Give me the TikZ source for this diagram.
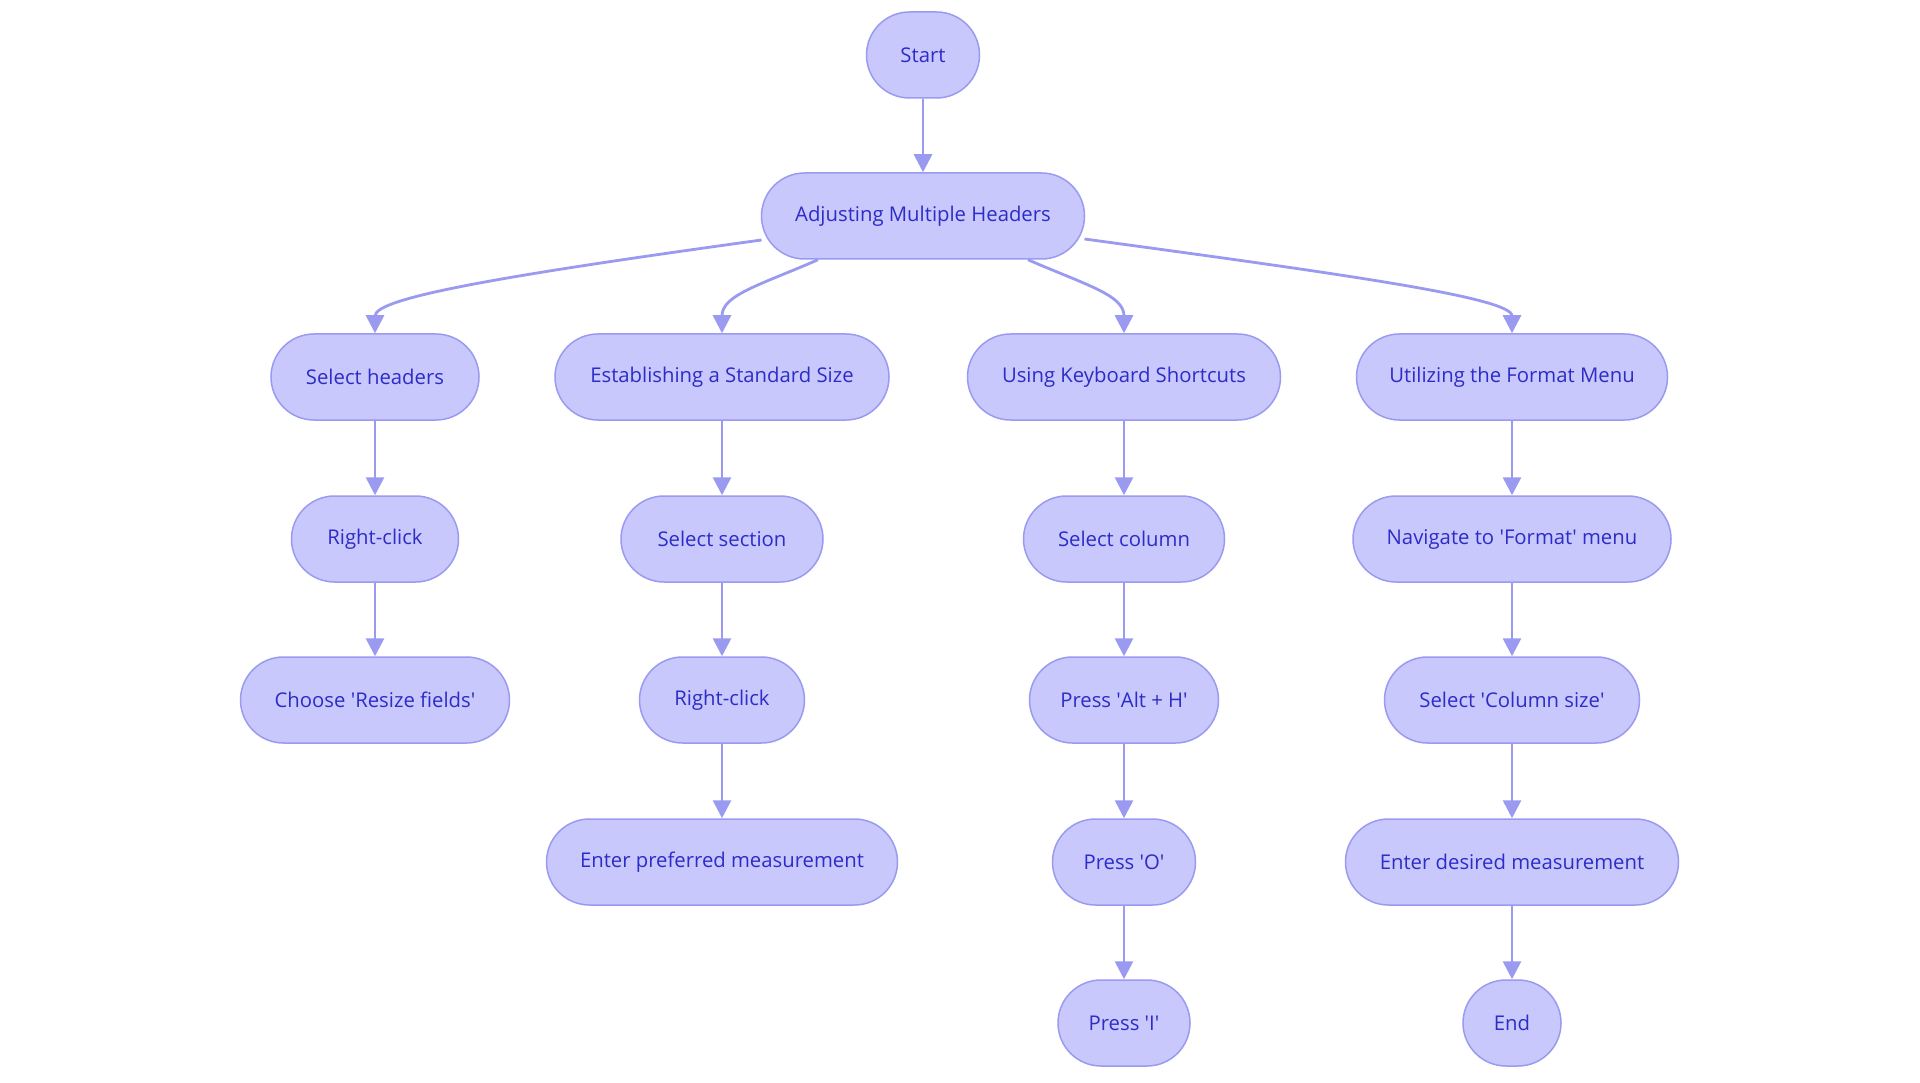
\documentclass[tikz,border=0pt]{standalone}
\usepackage{fontspec}
\setmainfont{Open Sans}
\usetikzlibrary{arrows.meta}
\definecolor{nodefill}{RGB}{200,200,252}
\definecolor{nodeline}{RGB}{154,154,240}
\definecolor{nodetext}{RGB}{44,44,200}
\newcommand{\sq}{\textquotesingle}
\tikzset{
  stadium/.style={draw=nodeline, fill=nodefill, line width=1.5pt,
    rounded corners=43pt, minimum height=86pt, inner sep=0pt,
    text=nodetext, font=\fontsize{20.3}{24}\selectfont},
  flow/.style={draw=nodeline, line width=2.8pt,
    -{Triangle[length=18pt,width=18pt]}}
}
\begin{document}
\begin{tikzpicture}[x=1pt,y=-1pt]
\useasboundingbox[fill=white] (0,0) rectangle (1920,1083);
% nodes
\node[stadium, minimum width=113pt] (start) at (923,55) {Start};
\node[stadium, minimum width=323pt] (adj) at (923,216) {Adjusting Multiple Headers};

\node[stadium, minimum width=208pt] (sh) at (375,377) {Select headers};
\node[stadium, minimum width=167pt] (rc1) at (375,539) {Right-click};
\node[stadium, minimum width=269pt] (cr) at (375,700) {Choose \sq Resize fields\sq};

\node[stadium, minimum width=334pt] (est) at (722,377) {Establishing a Standard Size};
\node[stadium, minimum width=202pt] (ss) at (722,539) {Select section};
\node[stadium, minimum width=165pt] (rc2) at (722,700) {Right-click};
\node[stadium, minimum width=351pt] (ep) at (722,862) {Enter preferred measurement};

\node[stadium, minimum width=313pt] (uks) at (1124,377) {Using Keyboard Shortcuts};
\node[stadium, minimum width=201pt] (sc) at (1124,539) {Select column};
\node[stadium, minimum width=189pt] (pah) at (1124,700) {Press \sq Alt + H\sq};
\node[stadium, minimum width=143pt] (po) at (1124,862) {Press \sq O\sq};
\node[stadium, minimum width=132pt] (pi) at (1124,1023) {Press \sq I\sq};

\node[stadium, minimum width=311pt] (ufm) at (1512,377) {Utilizing the Format Menu};
\node[stadium, minimum width=318pt] (nav) at (1512,539) {Navigate to \sq Format\sq{} menu};
\node[stadium, minimum width=255pt] (scs) at (1512,700) {Select \sq Column size\sq};
\node[stadium, minimum width=333pt] (ed) at (1512,862) {Enter desired measurement};
\node[stadium, minimum width=98pt] (end) at (1512,1023) {End};

% connectors
\draw[flow] (start) -- (adj);
\draw[flow] ([xshift=-161.5pt,yshift=-24pt]adj.center) .. controls (500,276) and (375,298) .. (sh.north);
\draw[flow] ([xshift=-105pt]adj.south) .. controls (760,285) and (722,295) .. (est.north);
\draw[flow] ([xshift=105pt]adj.south) .. controls (1086,285) and (1124,295) .. (uks.north);
\draw[flow] ([xshift=161.5pt,yshift=-23pt]adj.center) .. controls (1350,275) and (1512,298) .. (ufm.north);

\draw[flow] (sh) -- (rc1);
\draw[flow] (rc1) -- (cr);
\draw[flow] (est) -- (ss);
\draw[flow] (ss) -- (rc2);
\draw[flow] (rc2) -- (ep);
\draw[flow] (uks) -- (sc);
\draw[flow] (sc) -- (pah);
\draw[flow] (pah) -- (po);
\draw[flow] (po) -- (pi);
\draw[flow] (ufm) -- (nav);
\draw[flow] (nav) -- (scs);
\draw[flow] (scs) -- (ed);
\draw[flow] (ed) -- (end);
\end{tikzpicture}
\end{document}
